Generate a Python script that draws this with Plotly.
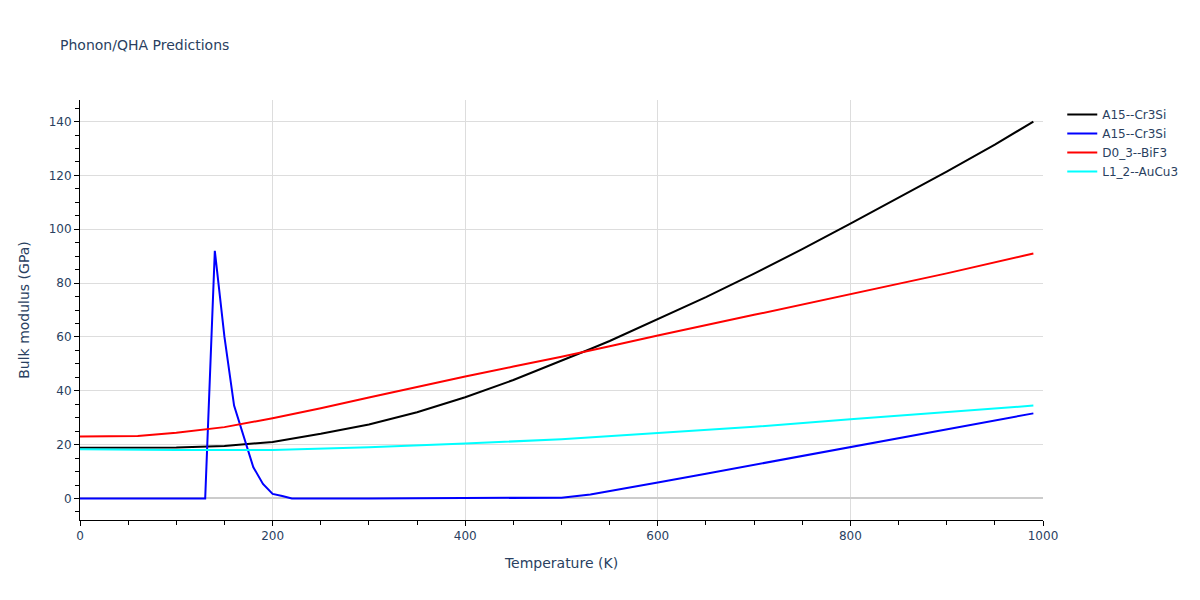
import plotly.graph_objects as go

# A15--Cr3Si (black)
t_black = [0, 50, 100, 150, 200, 250, 300, 350, 400, 450, 500, 530, 550, 600, 650, 700, 750, 800, 850, 900, 950, 990]
b_black = [18.8, 18.8, 18.9, 19.5, 21.0, 24.0, 27.5, 32.0, 37.6, 44.0, 51.0, 55.5, 58.5, 66.5, 74.8, 83.5, 92.6, 102.1, 111.7, 121.4, 131.4, 140.0]

# A15--Cr3Si (blue)
t_blue = [0, 50, 100, 130, 140, 150, 160, 170, 180, 190, 200, 210, 220, 300, 400, 490, 500, 530, 550, 600, 650, 700, 750, 800, 850, 900, 950, 990]
b_blue = [0.0, 0.0, 0.0, 0.0, 92.0, 60.0, 34.5, 22.8, 11.6, 5.4, 1.7, 0.9, 0.0, 0.0, 0.05, 0.1, 0.3, 1.5, 2.7, 5.9, 9.2, 12.5, 15.8, 19.1, 22.4, 25.7, 29.0, 31.6]

# D0_3--BiF3 (red)
t_red = [0, 60, 100, 150, 200, 250, 300, 350, 400, 450, 500, 550, 600, 700, 800, 900, 990]
b_red = [23.0, 23.2, 24.4, 26.5, 29.8, 33.5, 37.5, 41.5, 45.3, 49.0, 52.6, 56.5, 60.5, 68.2, 76.0, 83.6, 91.0]

# L1_2--AuCu3 (cyan)
t_cyan = [0, 100, 200, 300, 400, 500, 600, 700, 800, 900, 990]
b_cyan = [18.3, 18.0, 18.0, 19.0, 20.4, 22.0, 24.3, 26.6, 29.4, 32.0, 34.5]

series = [
    ("A15--Cr3Si", t_black, b_black, "black"),
    ("A15--Cr3Si", t_blue, b_blue, "blue"),
    ("D0_3--BiF3", t_red, b_red, "red"),
    ("L1_2--AuCu3", t_cyan, b_cyan, "cyan"),
]

fig = go.Figure()
for name, t, b, c in series:
    fig.add_trace(go.Scatter(x=t, y=b, mode="lines", name=name, line=dict(color=c, width=2)))

fig.update_layout(
    template="plotly_white",
    width=1200, height=600,
    font=dict(family="DejaVu Sans", color="#2a3f5f"),
    title=dict(text="Phonon/QHA Predictions", x=52/1200, y=1 - 37/600, yanchor="middle", font=dict(size=14)),
    margin=dict(l=72, r=165, t=92, b=88),
    legend=dict(font=dict(size=12)),
)
fig.update_xaxes(
    title_text="Temperature (K)", range=[0, 1000], dtick=200,
    showline=True, linecolor="black", ticks="outside", ticklen=5, tickcolor="black",
    minor=dict(dtick=50, ticks="outside", ticklen=4, tickcolor="black", showgrid=False),
    zeroline=False, showgrid=True, gridcolor="#dddddd",
)
fig.update_yaxes(
    title_text="Bulk modulus (GPa)", range=[-8, 148], dtick=20,
    showline=True, linecolor="black", ticks="outside", ticklen=5, tickcolor="black",
    minor=dict(dtick=5, ticks="outside", ticklen=4, tickcolor="black", showgrid=False),
    zeroline=True, zerolinecolor="#cccccc", zerolinewidth=2, showgrid=True, gridcolor="#dddddd",
)

fig.write_html("out.html")
